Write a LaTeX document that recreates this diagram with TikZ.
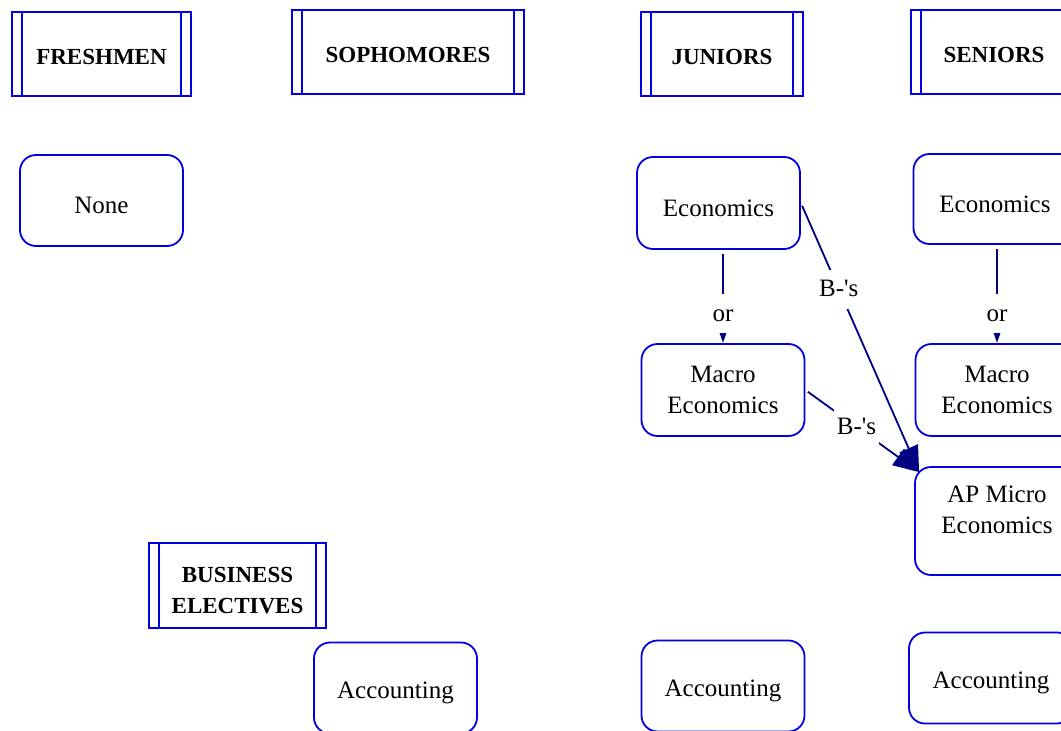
\documentclass[tikz,border=0pt]{standalone}
\usepackage{fontspec}
\setmainfont{Liberation Serif}
\usepackage{tikz}
\usetikzlibrary{arrows.meta}
\definecolor{boxblue}{RGB}{0, 0, 225}
\definecolor{linkblue}{RGB}{0, 0, 128}

\tikzset{
    headbox/.style={draw=boxblue, line width=1.8pt, minimum height=84pt, align=center,
        font=\fontsize{23}{31}\selectfont\bfseries,
        execute at begin node={\rule{0pt}{22pt}},
        path picture={\draw[boxblue, line width=1.8pt]
            ([xshift=10pt]path picture bounding box.north west) -- ([xshift=10pt]path picture bounding box.south west)
            ([xshift=-10pt]path picture bounding box.north east) -- ([xshift=-10pt]path picture bounding box.south east);}},
    coursebox/.style={draw=boxblue, line width=1.8pt, rounded corners=16pt, minimum width=163pt,
        minimum height=91pt, align=center, font=\fontsize{25}{30.5}\selectfont,
        execute at begin node={\rule{0pt}{26.5pt}}},
    linklabel/.style={fill=white, inner xsep=3pt, inner ysep=8pt, text height=19pt, text depth=4pt,
        font=\fontsize{25}{28}\selectfont},
    link/.style={draw=linkblue, line width=1.8pt}
}

\begin{document}
\begin{tikzpicture}[x=1pt, y=-1pt]
    \useasboundingbox (0,0) rectangle (1061,731);

    % year headers
    \node[headbox, minimum width=179pt] (fresh) at (101.5,54) {FRESHMEN};
    \node[headbox, minimum width=232pt] (soph) at (408,52) {SOPHOMORES};
    \node[headbox, minimum width=162pt] (jun) at (722,54) {JUNIORS};
    \node[headbox, minimum width=166pt] (sen) at (994,52) {SENIORS};
    \node[headbox, minimum width=177pt, minimum height=85pt] (bus) at (237.5,585.5) {\rule{0pt}{26pt}BUSINESS\\ELECTIVES};

    % courses
    \node[coursebox] (none) at (101.5,200.5) {None};
    \node[coursebox, minimum height=92pt] (junEcon) at (718.5,203) {Economics};
    \node[coursebox, minimum height=92pt] (junMacro) at (723,390) {Macro\\Economics};
    \node[coursebox, minimum height=90pt] (senEcon) at (995,199) {Economics};
    \node[coursebox, minimum height=92pt] (senMacro) at (997,390) {Macro\\Economics};
    \node[coursebox, minimum width=164pt, minimum height=108pt] (apMicro) at (997,521) {AP Micro\\Economics\\[-8pt]};
    \node[coursebox] (sophAcc) at (395.5,688) {Accounting};
    \node[coursebox] (junAcc) at (723,686) {Accounting};
    \node[coursebox, minimum width=164pt] (senAcc) at (991,678) {Accounting};

    \coordinate (apTip) at ([shift={(5pt,-6pt)}]apMicro.north west);

    % links
    \draw[link, -{Triangle[length=11pt,width=7pt]}, shorten <=4pt]
        (junEcon.south -| junMacro.north) -- node[linklabel, pos=0.684] {or} (junMacro.north);
    \draw[link, -{Triangle[length=11pt,width=7pt]}, shorten <=4pt]
        (senEcon.south -| senMacro.north) -- node[linklabel, pos=0.7] {or} (senMacro.north);
    \draw[link, -{Triangle[length=26pt,width=20pt]}, shorten <=3pt]
        (junEcon.east) -- node[linklabel, pos=0.32] {B-\textquotesingle s} (apTip);
    \draw[link, -{Triangle[length=26pt,width=20pt]}, shorten <=3pt]
        (junMacro.east) -- node[linklabel, pos=0.45] {B-\textquotesingle s} (apTip);
\end{tikzpicture}
\end{document}
